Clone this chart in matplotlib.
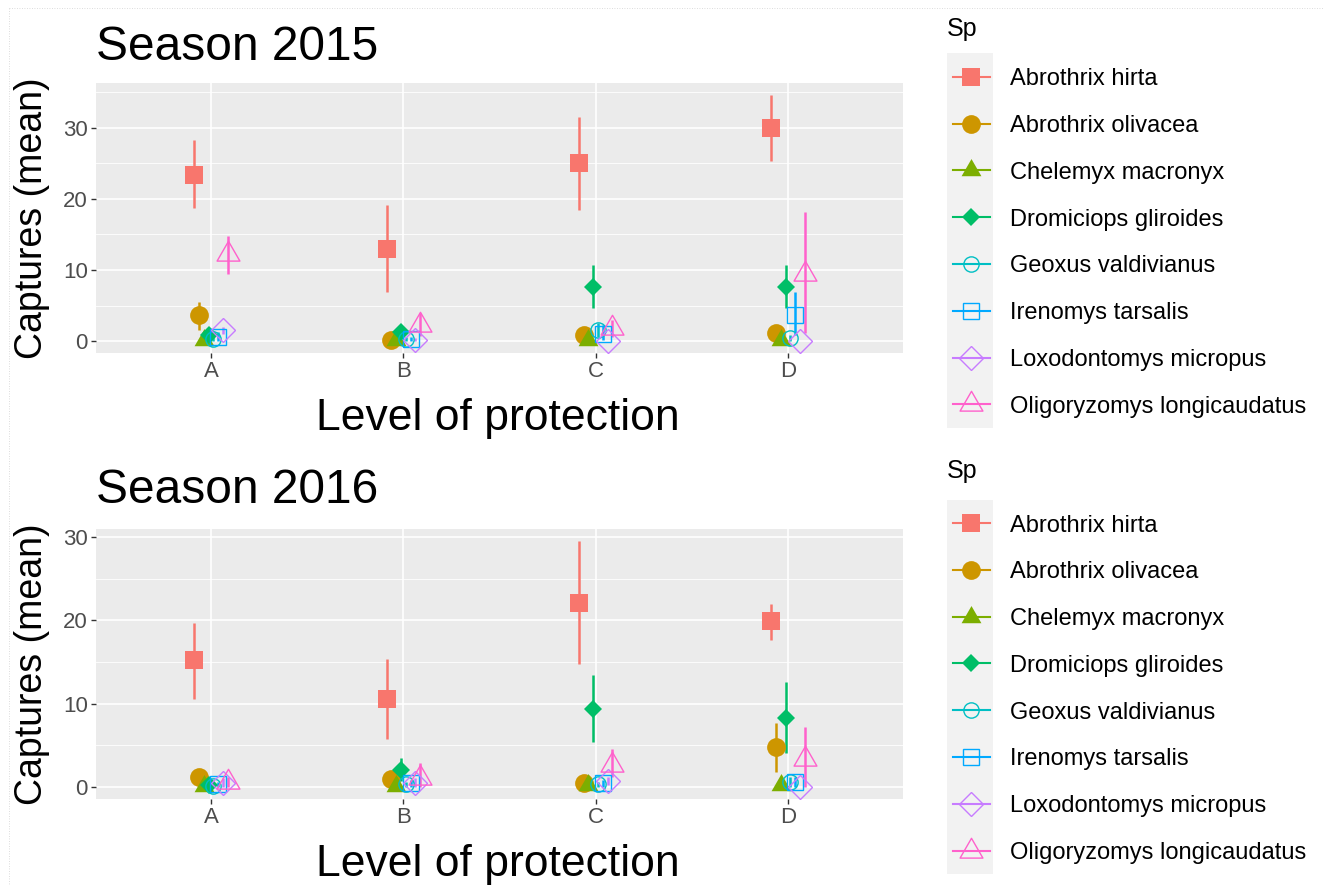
import matplotlib
matplotlib.use("Agg")
import matplotlib.pyplot as plt
from matplotlib.path import Path
from matplotlib.patches import Rectangle
from matplotlib.lines import Line2D
import numpy as np

plt.rcParams['font.family'] = ['Liberation Sans', 'DejaVu Sans']

# ---------------- data ----------------
levels = ["A", "B", "C", "D"]
species = ["Abrothrix hirta", "Abrothrix olivacea", "Chelemyx macronyx",
           "Dromiciops gliroides", "Geoxus valdivianus", "Irenomys tarsalis",
           "Loxodontomys micropus", "Oligoryzomys longicaudatus"]
colors = ["#F8766D", "#CD9600", "#7CAE00", "#00BE67",
          "#00BFC4", "#00A9FF", "#C77CFF", "#FF61CC"]

# Season 2015 (rows: species, columns: A, B, C, D)
mean_2015 = [[23.4, 13.0, 25.0, 30.0],
             [3.6, 0.2, 0.8, 1.1],
             [0.1, 0.1, 0.2, 0.2],
             [0.8, 1.3, 7.6, 7.6],
             [0.3, 0.3, 1.6, 0.4],
             [0.5, 0.3, 1.0, 3.7],
             [1.5, 0.2, 0.0, 0.0],
             [12.3, 2.2, 1.9, 9.4]]
lo_2015 = [[18.7, 6.9, 18.5, 25.3],
           [1.5, 0.0, 0.2, 0.4],
           [0.0, 0.0, 0.0, 0.0],
           [0.3, 0.6, 4.6, 4.6],
           [0.0, 0.0, 0.5, 0.0],
           [0.0, 0.0, 0.2, 0.8],
           [1.0, 0.0, 0.0, 0.0],
           [9.5, 0.7, 0.6, 1.1]]
hi_2015 = [[28.3, 19.2, 31.6, 34.6],
           [5.5, 0.5, 1.4, 1.8],
           [0.3, 0.3, 0.4, 0.4],
           [1.3, 2.0, 10.7, 10.7],
           [0.6, 0.6, 2.6, 0.8],
           [1.2, 0.6, 2.3, 6.9],
           [2.0, 0.4, 0.0, 0.0],
           [14.8, 3.9, 3.0, 18.1]]

# Season 2016
mean_2016 = [[15.2, 10.6, 22.1, 19.9],
             [1.2, 0.9, 0.4, 4.8],
             [0.1, 0.1, 0.2, 0.2],
             [0.2, 2.0, 9.4, 8.3],
             [0.1, 0.3, 0.3, 0.6],
             [0.3, 0.4, 0.4, 0.6],
             [0.5, 0.5, 0.7, 0.0],
             [0.6, 1.1, 2.6, 3.3]]
lo_2016 = [[10.6, 5.7, 14.8, 17.6],
           [0.6, 0.3, 0.0, 1.8],
           [0.0, 0.0, 0.0, 0.0],
           [0.0, 0.7, 5.4, 4.0],
           [0.0, 0.0, 0.0, 0.0],
           [0.0, 0.0, 0.0, 0.0],
           [0.0, 0.0, 0.2, 0.0],
           [0.0, 0.0, 1.2, 0.0]]
hi_2016 = [[19.7, 15.4, 29.5, 22.0],
           [1.8, 1.5, 0.8, 7.6],
           [0.3, 0.3, 0.4, 0.4],
           [0.5, 3.4, 13.4, 12.6],
           [0.3, 0.6, 0.6, 1.2],
           [0.6, 0.8, 0.8, 1.2],
           [1.0, 1.0, 1.2, 0.0],
           [1.2, 2.8, 4.5, 7.2]]

titles = ["Season 2015", "Season 2016"]
xlabel = "Level of protection"
ylabel = "Captures (mean)"
legend_title = "Sp"

# ---------------- styles ----------------
tri = Path([(0, 1), (-0.866, -0.5), (0.866, -0.5), (0, 1)],
           [Path.MOVETO, Path.LINETO, Path.LINETO, Path.CLOSEPOLY])
# (marker, markersize, filled)
mstyle = [("s", 13.5, True), ("o", 13.5, True), (tri, 16.5, True), ("D", 9.5, True),
          ("o", 11.0, False), ("s", 11.5, False), ("D", 12.5, False), (tri, 19.0, False)]

W, H = 1324, 886
fig = plt.figure(figsize=(W / 100, H / 100), dpi=100)


def rect(l, t, r, b):
    return [l / W, 1 - b / H, (r - l) / W, (b - t) / H]


panel_bg = "#EBEBEB"
dodge = 0.2
n = len(species)


def draw_panel(ax, means, los, his):
    x = np.arange(1, len(levels) + 1)
    for i in range(n):
        off = (i - (n - 1) / 2) * dodge / n
        ax.vlines(x + off, los[i], his[i], color=colors[i], lw=1.8, zorder=2)
    for i in range(n):
        off = (i - (n - 1) / 2) * dodge / n
        m, ms, filled = mstyle[i]
        if filled:
            ax.plot(x + off, means[i], linestyle="none", marker=m, ms=ms,
                    mfc=colors[i], mec=colors[i], mew=0, zorder=3)
        else:
            ax.plot(x + off, means[i], linestyle="none", marker=m, ms=ms,
                    mfc="none", mec=colors[i], mew=1.0, zorder=3)
    allv = np.concatenate([np.ravel(los), np.ravel(his), np.ravel(means)])
    ymin, ymax = allv.min(), allv.max()
    pad = 0.05 * (ymax - ymin)
    ax.set_ylim(ymin - pad, ymax + pad)
    ax.set_xlim(0.4, len(levels) + 0.6)
    ax.set_xticks(x)
    ax.set_xticklabels(levels)
    ax.set_yticks([0, 10, 20, 30])
    ax.set_yticks([v for v in [5, 15, 25, 35] if v < ymax + pad], minor=True)
    ax.set_facecolor(panel_bg)
    for s in ax.spines.values():
        s.set_visible(False)
    ax.grid(which="major", color="white", lw=1.2)
    ax.grid(which="minor", axis="y", color="white", lw=0.6)
    ax.set_axisbelow(True)
    ax.tick_params(which="major", length=3.5, width=1.0, color="#333333",
                   labelcolor="#4D4D4D", labelsize=16, pad=2)
    ax.tick_params(which="minor", length=0)


panels = [(83, 353.3, mean_2015, lo_2015, hi_2015),
          (529, 799, mean_2016, lo_2016, hi_2016)]
for k, (t, b, mn, lo, hi) in enumerate(panels):
    ax = fig.add_axes(rect(95.6, t, 903.4, b))
    draw_panel(ax, mn, lo, hi)

# overlay for texts and legends in pixel space
ov = fig.add_axes([0, 0, 1, 1], facecolor="none")
ov.set_xlim(0, W)
ov.set_ylim(H, 0)
ov.axis("off")

title_base = [60, 503]
xlab_base = [430, 876]
panel_mid = [(83 + 353.3) / 2, (529 + 799) / 2]
for k in range(2):
    ov.text(96, title_base[k], titles[k], fontsize=34.5, ha="left", va="baseline", color="black")
    ov.text(498, xlab_base[k], xlabel, fontsize=32, ha="center", va="baseline", color="black")
    ov.text(32, panel_mid[k], ylabel, fontsize=27, rotation=90, ha="center", va="center",
            color="black")

# legends
leg_title_base = [36, 478]
leg_first_row = [76.7, 523]
row_h = 46.8
for k in range(2):
    ov.text(947, leg_title_base[k], legend_title, fontsize=18, ha="left", va="baseline")
    top = leg_first_row[k] - row_h / 2
    ov.add_patch(Rectangle((947, top), 46, row_h * n, facecolor="#F2F2F2",
                           edgecolor="none", zorder=1))
    for i in range(n):
        yc = leg_first_row[k] + i * row_h
        ov.add_line(Line2D([953, 990], [yc, yc], color=colors[i], lw=1.5, zorder=2))
        m, ms, filled = mstyle[i]
        if filled:
            ov.plot([970.5], [yc], marker=m, ms=ms, mfc=colors[i], mec=colors[i], mew=0,
                    linestyle="none", zorder=3)
        else:
            ov.plot([970.5], [yc], marker=m, ms=ms, mfc="none", mec=colors[i], mew=1.0,
                    linestyle="none", zorder=3)
        ov.text(1010, yc + 8.5, species[i], fontsize=17, ha="left", va="baseline")

# faint dotted image border
ov.add_line(Line2D([9, W], [8, 8], color="#D0D0D0", lw=0.6, linestyle=(0, (1, 2))))
ov.add_line(Line2D([9, 9], [8, H], color="#D0D0D0", lw=0.6, linestyle=(0, (1, 2))))

fig.savefig("out.png", dpi=100)
